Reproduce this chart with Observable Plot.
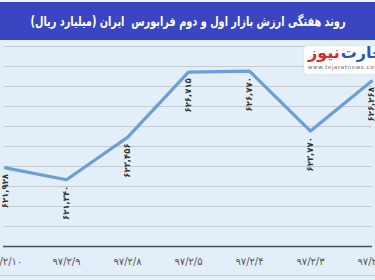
<!DOCTYPE html>
<html><head><meta charset="utf-8">
<script src="https://cdn.jsdelivr.net/npm/d3@7"></script>
<script src="https://cdn.jsdelivr.net/npm/@observablehq/plot@0.6"></script>
<style>
html,body{margin:0;padding:0;}
body{width:375px;height:280px;overflow:hidden;background:#e3eff8;position:relative;font-family:"DejaVu Sans",sans-serif;}
#top{position:absolute;left:0;top:0;width:375px;height:2px;background:#eef3f8;}
#header{position:absolute;left:0;top:2px;width:375px;height:38px;background:#3a45c2;}
#title{position:absolute;left:187.5px;top:19px;color:#fff;font-weight:bold;font-size:13.5px;direction:rtl;white-space:nowrap;transform-origin:center center;}
#chart{position:absolute;left:0;top:40px;}
#chart svg{overflow:hidden;}
#logo{position:absolute;left:304px;top:46px;width:80px;height:28px;background:#fff;border-radius:2px;box-shadow:0 0 1px #aab;overflow:hidden;}
#logo .name{position:absolute;left:4px;top:-3px;direction:rtl;font-weight:bold;font-size:16px;white-space:nowrap;}
#logo .name span{display:inline-block;}
#logo .url{position:absolute;left:4px;top:18px;font-size:5.5px;color:#667;letter-spacing:0.6px;white-space:nowrap;}
#bottomline{position:absolute;left:0;top:275px;width:375px;height:1px;background:#c9cfd5;}
</style>
</head><body>
<div id="top"></div>
<div id="header"><span id="title">روند هفتگی ارزش بازار اول و دوم فرابورس&nbsp; ایران (میلیارد ریال)</span></div>
<div id="chart"></div>
<div id="logo"><div class="name"><span style="color:#2b56b8;margin-left:1px">تجارت</span><span style="color:#e0262b">نیوز</span></div><div class="url">www.tejaratnews.com</div></div>
<div id="bottomline"></div>
<script>
const dates = ["۹۷/۲/۱۰","۹۷/۲/۹","۹۷/۲/۸","۹۷/۲/۵","۹۷/۲/۴","۹۷/۲/۳","۹۷/۲/۲"];
const values = [621928, 621340, 623456, 626715, 626770, 623770, 626268];
const gridTicks = [619000,620000,621000,622000,623000,624000,625000,626000,627000,628000];

const fa = s => String(s).replace(/\d/g, d => "۰۱۲۳۴۵۶۷۸۹"[d]);
const fmt = v => fa(d3.format(",")(v));
const data = dates.map((d, i) => ({date: d, value: values[i]}));

// fit title to ~315px width, centred
const t = document.getElementById("title");
const tw = t.getBoundingClientRect().width, th = t.getBoundingClientRect().height;
const s = Math.min(1, 315 / tw);
t.style.transform = `translate(${-tw/2}px, ${-th/2}px) scaleX(${s})`;

const chart = Plot.plot({
  width: 375,
  height: 240,
  marginTop: 6,
  marginBottom: 34,
  marginLeft: 3,
  marginRight: 3,
  style: {background: "transparent", fontFamily: "DejaVu Sans, sans-serif"},
  x: {type: "point", domain: dates, padding: 0},
  y: {domain: [618000, 628000], axis: null},
  marks: [
    Plot.ruleY(gridTicks, {stroke: "#c5cbd1", strokeWidth: 1}),
    Plot.ruleY([618000], {stroke: "#4a4f55", strokeWidth: 1.5}),
    Plot.axisX({tickSize: 0, tickPadding: 11, fontSize: 10, color: "#555", label: null}),
    Plot.line(data, {x: "date", y: "value", stroke: "#6b9fd5", strokeWidth: 3.2}),
    Plot.text(data, {x: "date", y: "value", text: d => fmt(d.value), rotate: -90, textAnchor: "end", lineAnchor: "middle", dy: 6, fontSize: 8.5, fontWeight: "bold", fill: "#333"})
  ]
});
document.getElementById("chart").appendChild(chart);
</script>
</body></html>
